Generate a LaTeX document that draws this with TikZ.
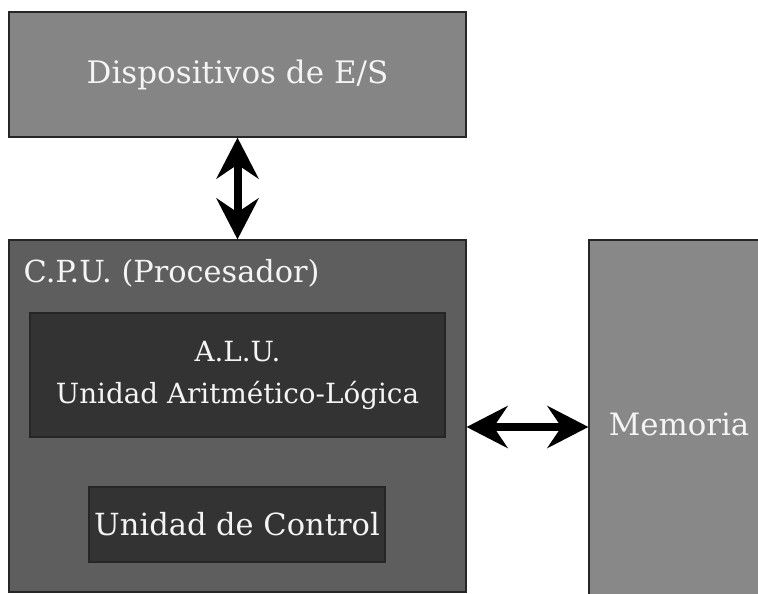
\documentclass[tikz,border=0pt]{standalone}
\usepackage{fontspec}
\setmainfont{DejaVu Serif}
\usetikzlibrary{arrows.meta,positioning}

\definecolor{grisclaro}{HTML}{858585}
\definecolor{grismedio}{HTML}{5E5E5E}
\definecolor{grisoscuro}{HTML}{333333}
\definecolor{grismem}{HTML}{888888}
\definecolor{textoblanco}{HTML}{F4F4F4}

\tikzset{
  caja/.style={rectangle, draw=black!85, line width=1.2pt, inner sep=0pt, text=textoblanco},
  flecha/.style={{Stealth[length=41pt,width=42pt,inset=14pt]}-{Stealth[length=41pt,width=42pt,inset=14pt]}, line width=8pt}
}

\begin{document}
\begin{tikzpicture}[x=1pt,y=1pt]
  \useasboundingbox (0,0) rectangle (758,-594);
  \clip (0,0) rectangle (758,-594);
  \node[caja, fill=grisclaro, minimum width=457pt, minimum height=125pt, font=\fontsize{31}{37}\selectfont] (es) at (237.5,-74.5) {Dispositivos de E/S};
  \node[caja, fill=grismedio, minimum width=457pt, minimum height=352pt] (cpu) at (237.5,-416) {};
  \node[text=textoblanco, anchor=base west, inner sep=0pt, font=\fontsize{30.4}{36}\selectfont] (cpulbl) at ([xshift=15pt,yshift=-43pt]cpu.north west) {C.P.U. (Procesador)};
  \node[caja, fill=grisoscuro, minimum width=415pt, minimum height=124pt, align=center, font=\fontsize{27.8}{42}\selectfont] (alu) at (237.5,-375) {A.L.U.\\Unidad Aritmético-Lógica};
  \node[caja, fill=grisoscuro, minimum width=296pt, minimum height=75pt, font=\fontsize{30.5}{36}\selectfont] (uc) at (237,-524.5) {Unidad de Control};
  \node[caja, fill=grismem, minimum width=180pt, minimum height=368pt, font=\fontsize{30.8}{36}\selectfont] (mem) at (679,-424) {Memoria};
  \coordinate (bus) at (527,-427);

  \draw[flecha] (es.south) -- (cpu.north);
  \draw[flecha] (cpu.east |- bus) -- (mem.west |- bus);
\end{tikzpicture}
\end{document}
